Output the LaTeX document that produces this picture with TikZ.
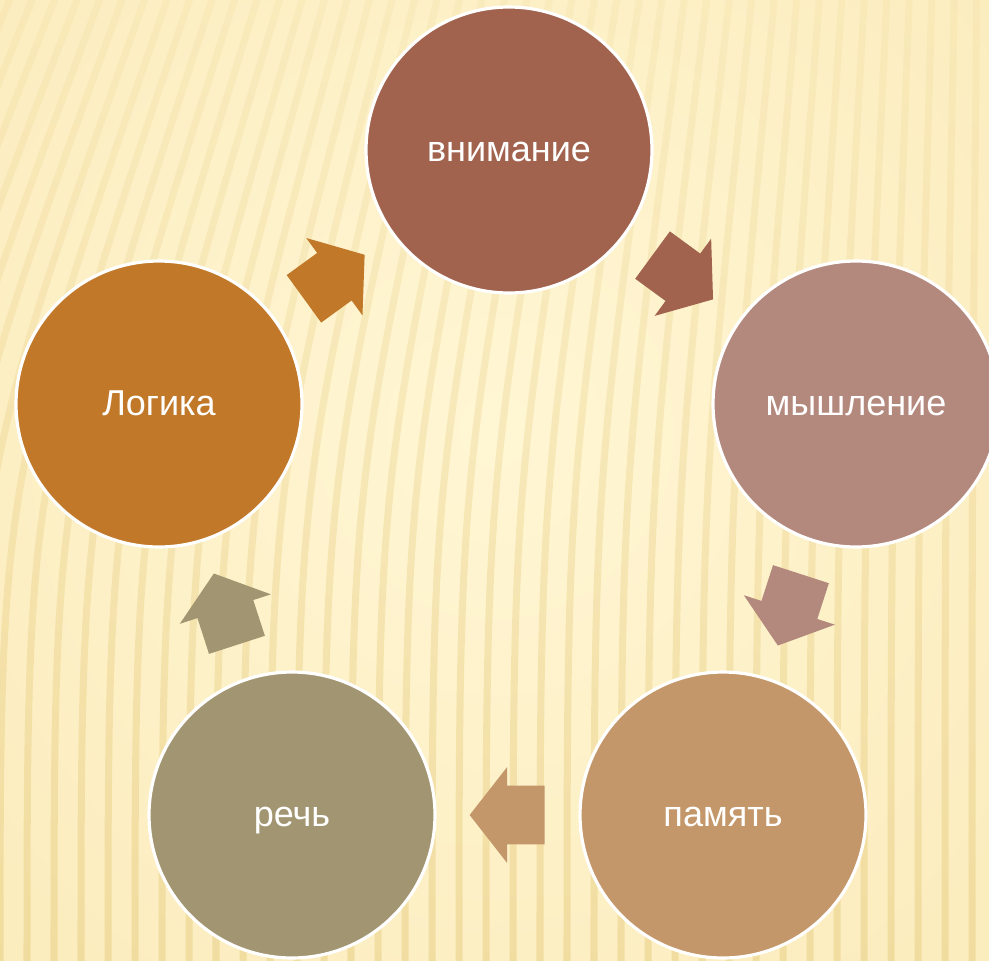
\documentclass[tikz,border=0pt]{standalone}
\usepackage{fontspec}
\setmainfont{Liberation Sans}
\usetikzlibrary{shapes.arrows,calc,fadings}
\definecolor{fond}{HTML}{FCEDBF}
\definecolor{fondclair}{HTML}{FFF6D4}
\definecolor{raie}{HTML}{E9CF85}
\definecolor{brique}{HTML}{A1634E}
\definecolor{rose}{HTML}{B3887D}
\definecolor{sable}{HTML}{C4976A}
\definecolor{kaki}{HTML}{A29572}
\definecolor{ocre}{HTML}{C17829}
\tikzfading[name=versbas, top color=transparent!75, bottom color=transparent!0]

\tikzset{
  rond/.style={circle, draw=white, line width=1.8pt, minimum size=5.72cm,
    inner sep=0pt, text=white, text height=13pt, text depth=0pt,
    font=\fontsize{20.5}{24}\selectfont},
  fleche/.style={single arrow, minimum height=1.5cm, inner xsep=0pt, inner ysep=0.58cm,
    single arrow head extend=0.37cm, single arrow tip angle=104, anchor=tail}
}

\begin{document}
\begin{tikzpicture}[x=0.02cm,y=-0.02cm]
  \useasboundingbox (0,0) rectangle (989,960);
  \clip (0,0) rectangle (989,960);

  % fond
\fill[fond] (0,0) rectangle (989,960);
\shade[inner color=fondclair, outer color=fond] (-150,-250) rectangle (1139,1110);
\foreach \k in {-10,...,37}
{
  \draw[raie, line width=4pt, opacity=0.55, path fading=versbas]
    ({\k*27},970) .. controls ({\k*27},480) .. ({\k*27+0.17*(1000-\k*27)},-10);
}

  % cercles
\node[rond, fill=brique] (attention) at (509,150) {внимание};
\node[rond, fill=rose]   (pensee)    at (856,404) {мышление};
\node[rond, fill=sable]  (memoire)   at (723,815) {память};
\node[rond, fill=kaki]   (parole)    at (292,815) {речь};
\node[rond, fill=ocre]   (logique)   at (159,404) {Логика};

  % flèches
\foreach \src/\dst/\col/\nom in {logique/attention/ocre/f1, attention/pensee/brique/f2,
    pensee/memoire/rose/f3, memoire/parole/sable/f4, parole/logique/kaki/f5}
{
  \path let \p1 = ($(\dst)-(\src)$), \n1 = {atan2(\y1,\x1)} in
    node[fleche, fill=\col, rotate=\n1] (\nom) at ($(\src)!0.5!(\dst)!0.75cm!(\src)$) {};
}
\end{tikzpicture}
\end{document}
